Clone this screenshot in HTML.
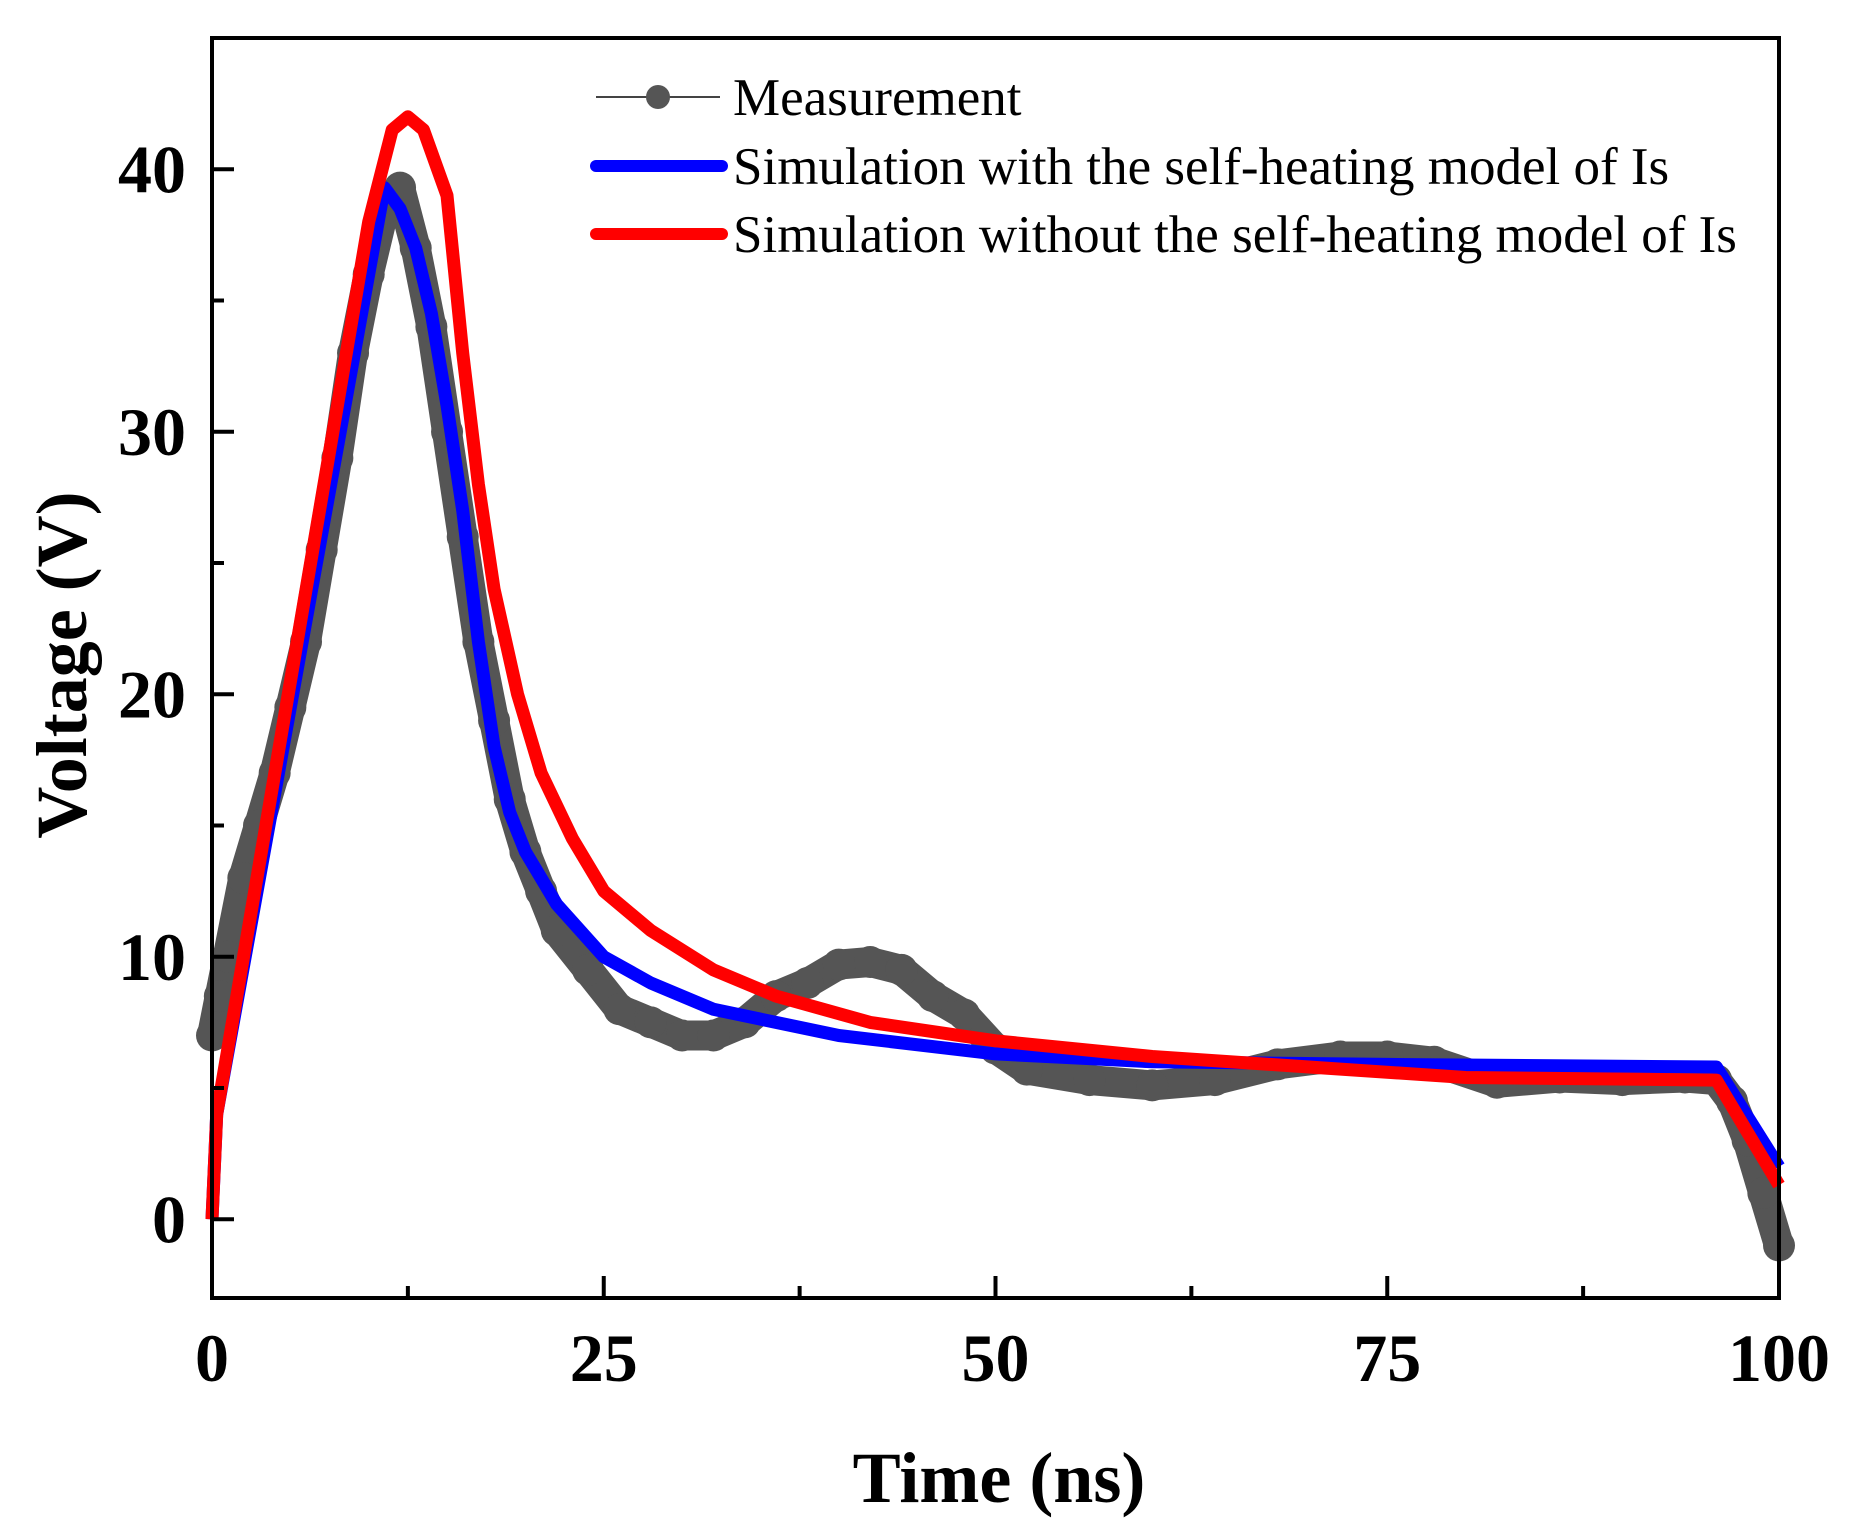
<!DOCTYPE html>
<html><head><meta charset="utf-8"><style>
html,body{margin:0;padding:0;background:#fff;}
svg{display:block;}
</style></head><body>
<svg id="chart" width="1859" height="1531" viewBox="0 0 1859 1531" xmlns="http://www.w3.org/2000/svg">
<g id="marks"></g>
<rect x="212" y="38" width="1567" height="1260" fill="none" stroke="#000" stroke-width="4"/>
<g id="axes" font-family="Liberation Serif, serif" font-weight="bold"></g>
<text x="999" y="1502" font-family="Liberation Serif, serif" font-weight="bold" font-size="72" text-anchor="middle">Time (ns)</text>
<text transform="translate(86,665) rotate(-90)" font-family="Liberation Serif, serif" font-weight="bold" font-size="72" text-anchor="middle">Voltage (V)</text>
<g font-family="Liberation Serif, serif" font-size="53">
  <g>
    <line x1="596" y1="97" x2="720" y2="97" stroke="#444" stroke-width="2"/>
    <circle cx="658" cy="97" r="12" fill="#555"/>
    <text x="733" y="115">Measurement</text>
  </g>
  <g>
    <line x1="596" y1="166" x2="722" y2="166" stroke="#0000ff" stroke-width="12" stroke-linecap="round"/>
    <text x="733" y="184">Simulation with the self-heating model of Is</text>
  </g>
  <g>
    <line x1="596" y1="234" x2="722" y2="234" stroke="#ff0000" stroke-width="12" stroke-linecap="round"/>
    <text x="733" y="252">Simulation without the self-heating model of Is</text>
  </g>
</g>
</svg>
<script>
const measT = [0,0.5,1,2,3,4,5,6,7,8,9,10,11,12,13,14,15,16,17,18,19,20,21,22,24,26,28,30,32,34,36,38,40,42,44,46,48,50,52,56,60,64,68,72,75,78,82,86,90,94,96,97,98,99,100];
const measV = [7,8.5,10,13,15,17,19.5,22,25.5,29,33,36,38.5,39.3,37,34,30,26,22,19,16,14,12.5,11,9.5,8,7.5,7,7,7.5,8.5,9,9.7,9.8,9.5,8.5,7.8,6.5,5.7,5.3,5.1,5.3,5.9,6.2,6.2,6,5.2,5.4,5.3,5.4,5.3,4.5,3,1,-1];
const blueT = [0,0.3,11,12,13,14,15,16,17,18,19,20,22,25,28,32,40,50,60,75,96,100];
const blueV = [0,4,39.3,38.5,37,34.5,31,27,22,18,15.5,14,12,10,9,8,7,6.3,6,5.9,5.8,2];
const redT = [0,0.3,10,11.5,12.5,13.5,15,16,17,18,19.5,21,23,25,28,32,36,42,50,60,70,80,96,100];
const redV = [0,4,38,41.5,42,41.5,39,33,28,24,20,17,14.5,12.5,11,9.5,8.5,7.5,6.8,6.2,5.8,5.4,5.3,1.3];
const xTicks = [0,25,50,75,100];
const xTickLabels = ["0","25","50","75","100"];
const yTicks = [0,10,20,30,40];
const yTickLabels = ["0","10","20","30","40"];

const NS='http://www.w3.org/2000/svg';
const X0=212,X1=1779,YB=1298,YT=38,VMIN=-3,VMAX=45;
function sx(t){return X0+(t-0)/(100-0)*(X1-X0);}
function sy(v){return YB-(v-VMIN)/(VMAX-VMIN)*(YB-YT);}
const marks=document.getElementById('marks');
const axes=document.getElementById('axes');
function mk(tag,attrs,parent){const e=document.createElementNS(NS,tag);for(const k in attrs)e.setAttribute(k,attrs[k]);parent.appendChild(e);return e;}
function pts(T,V){return T.map((t,i)=>sx(t).toFixed(1)+','+sy(V[i]).toFixed(1)).join(' ');}

const mg=mk('g',{},marks);


const ml=mk('polyline',{points:pts(measT,measV),fill:'none',stroke:'#555','stroke-width':30,'stroke-linejoin':'round','stroke-linecap':'round'},mg);


measT.forEach((t,i)=>{const c=mk('circle',{cx:sx(t),cy:sy(measV[i]),r:16,fill:'#555'},mg);

});

const bl=mk('polyline',{points:pts(blueT,blueV),fill:'none',stroke:'#0000ff','stroke-width':13,'stroke-linejoin':'round'},marks);


const rl=mk('polyline',{points:pts(redT,redV),fill:'none',stroke:'#ff0000','stroke-width':13,'stroke-linejoin':'round'},marks);



xTicks.forEach((t,i)=>{
  const l=mk('line',{x1:sx(t),x2:sx(t),y1:YB,y2:YB-22,stroke:'#000','stroke-width':4},axes);
  
  
  if(i<xTicks.length-1){const m=mk('line',{x1:sx(t+12.5),x2:sx(t+12.5),y1:YB,y2:YB-12,stroke:'#000','stroke-width':4},axes);
  
  }
  const tx=mk('text',{x:sx(t),y:1381,'font-size':68,'text-anchor':'middle'},axes);
  tx.textContent=xTickLabels[i];
  
  
});
yTicks.forEach((v,i)=>{
  const l=mk('line',{x1:X0,x2:X0+22,y1:sy(v),y2:sy(v),stroke:'#000','stroke-width':4},axes);
  
  
  const m=mk('line',{x1:X0,x2:X0+12,y1:sy(v+5),y2:sy(v+5),stroke:'#000','stroke-width':4},axes);
  
  
  const tx=mk('text',{x:186,y:sy(v)+23,'font-size':68,'text-anchor':'end'},axes);
  tx.textContent=yTickLabels[i];
  
  
});
</script>
</body></html>
